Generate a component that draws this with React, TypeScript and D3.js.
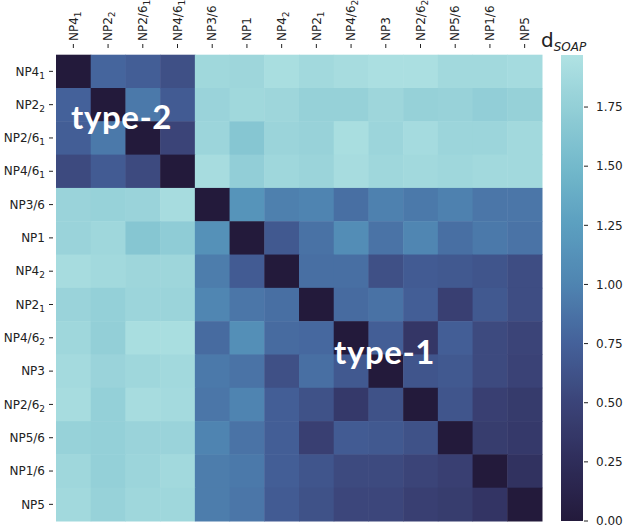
import React from "react";
import * as d3 from "d3";

const labelBase = ["NP4", "NP2", "NP2/6", "NP4/6", "NP3/6", "NP1", "NP4", "NP2", "NP4/6", "NP3", "NP2/6", "NP5/6", "NP1/6", "NP5"];
const labelSub = ["1", "2", "1", "1", "", "", "2", "1", "2", "", "2", "", "", ""];

const dist: number[][] = [
  [0, 0.78, 0.72, 0.6, 1.85, 1.83, 1.92, 1.86, 1.9, 1.93, 1.93, 1.86, 1.86, 1.89],
  [0.75, 0, 0.92, 0.7, 1.8, 1.85, 1.83, 1.77, 1.77, 1.83, 1.77, 1.79, 1.74, 1.77],
  [0.72, 0.92, 0, 0.5, 1.82, 1.65, 1.81, 1.79, 1.92, 1.82, 1.89, 1.82, 1.82, 1.86],
  [0.55, 0.7, 0.55, 0, 1.9, 1.74, 1.84, 1.81, 1.9, 1.84, 1.86, 1.84, 1.86, 1.86],
  [1.8, 1.78, 1.8, 1.9, 0, 1.15, 0.97, 1.0, 0.85, 0.98, 0.92, 0.98, 0.9, 0.9],
  [1.8, 1.84, 1.65, 1.72, 1.12, 0, 0.68, 0.87, 1.08, 0.88, 1.02, 0.85, 0.92, 0.88],
  [1.9, 1.86, 1.83, 1.83, 0.95, 0.7, 0, 0.85, 0.85, 0.6, 0.7, 0.68, 0.65, 0.58],
  [1.8, 1.76, 1.82, 1.81, 1.02, 0.9, 0.85, 0, 0.82, 0.87, 0.72, 0.45, 0.68, 0.58],
  [1.84, 1.75, 1.92, 1.92, 0.82, 1.1, 0.82, 0.8, 0, 0.72, 0.35, 0.72, 0.55, 0.5],
  [1.88, 1.8, 1.84, 1.86, 0.92, 0.88, 0.6, 0.85, 0.68, 0, 0.65, 0.68, 0.55, 0.48],
  [1.9, 1.76, 1.9, 1.88, 0.9, 1.0, 0.72, 0.62, 0.38, 0.62, 0, 0.65, 0.45, 0.4],
  [1.78, 1.76, 1.8, 1.8, 1.0, 0.88, 0.72, 0.45, 0.7, 0.68, 0.62, 0, 0.42, 0.38],
  [1.84, 1.76, 1.82, 1.86, 0.95, 0.92, 0.72, 0.65, 0.55, 0.55, 0.5, 0.45, 0, 0.3],
  [1.86, 1.78, 1.84, 1.84, 0.95, 0.9, 0.7, 0.62, 0.52, 0.52, 0.45, 0.42, 0.33, 0],
];

const cbTicks = [0, 0.25, 0.5, 0.75, 1.0, 1.25, 1.5, 1.75];
const vmin = 0;
const vmax = 1.97;

const cmapStops = [0, 0.25, 0.5, 0.75, 1.0, 1.25, 1.5, 1.75, 1.97];
const cmapColors = ["#231a3b", "#2f2d5a", "#3b4478", "#44619a", "#4f84b1", "#5b9fc0", "#73b9cb", "#93cfd7", "#b0e2e3"];

const groupText = ["type-2", "type-1"];

export default function App() {
  const W = 626, H = 528;
  const hx0 = 56, hx1 = 542, hy0 = 54.7, hy1 = 521;
  const idx = d3.range(labelBase.length);
  const x = d3.scaleBand<number>().domain(idx).range([hx0, hx1]);
  const y = d3.scaleBand<number>().domain(idx).range([hy0, hy1]);
  const color = d3.scaleLinear<string>().domain(cmapStops).range(cmapColors).interpolate(d3.interpolateRgb).clamp(true);

  const cbx0 = 561, cbx1 = 583, cby0 = 55, cby1 = 521;
  const cy = d3.scaleLinear().domain([vmin, vmax]).range([cby1, cby0]);
  const gradStops = d3.range(0, 1.0001, 0.02).map((t) => ({ t, c: color(vmin + t * (vmax - vmin)) }));

  const font = "'DejaVu Sans', sans-serif";

  const label = (i: number) => (
    <>
      {labelBase[i]}
      {labelSub[i] ? <tspan dy={3} fontSize={9}>{labelSub[i]}</tspan> : null}
    </>
  );

  return (
    <svg width={W} height={H} style={{ position: "absolute", left: 0, top: 0, background: "#fff" }}>
      <defs>
        <linearGradient id="cb" x1="0" y1="1" x2="0" y2="0">
          {gradStops.map((s, i) => (
            <stop key={i} offset={s.t} stopColor={s.c} />
          ))}
        </linearGradient>
      </defs>
      <g>
        {dist.map((row, i) =>
          row.map((v, j) => (
            <rect key={`${i}-${j}`} x={x(j)} y={y(i)} width={x.bandwidth() + 0.5} height={y.bandwidth() + 0.5} fill={color(v)} />
          ))
        )}
      </g>
      {/* y axis */}
      <g fontFamily={font} fontSize={12} fill="#222">
        {idx.map((i) => {
          const cyy = (y(i) as number) + y.bandwidth() / 2;
          return (
            <g key={i}>
              <line x1={49} x2={53} y1={cyy} y2={cyy} stroke="#222" strokeWidth={1} />
              <text x={45} y={cyy} dy="0.35em" textAnchor="end">{label(i)}</text>
            </g>
          );
        })}
      </g>
      {/* x axis */}
      <g fontFamily={font} fontSize={12} fill="#222">
        {idx.map((j) => {
          const cx = (x(j) as number) + x.bandwidth() / 2;
          return (
            <g key={j}>
              <line x1={cx} x2={cx} y1={44} y2={48} stroke="#222" strokeWidth={1} />
              <text transform={`translate(${cx},${41}) rotate(-90)`} dy="0.35em" textAnchor="start">{label(j)}</text>
            </g>
          );
        })}
      </g>
      {/* group labels */}
      <text x={71} y={129} fill="#fff" fontFamily="Lato, sans-serif" fontWeight={700} fontSize={33} letterSpacing={0.6}>{groupText[0]}</text>
      <text x={334} y={364} fill="#fff" fontFamily="Lato, sans-serif" fontWeight={700} fontSize={33} letterSpacing={0.6}>{groupText[1]}</text>
      {/* colorbar */}
      <rect x={cbx0} y={cby0} width={cbx1 - cbx0} height={cby1 - cby0} fill="url(#cb)" />
      <g fontFamily={font} fontSize={12} fill="#222">
        {cbTicks.map((t) => (
          <g key={t}>
            <line x1={cbx1 + 1} x2={cbx1 + 5} y1={cy(t)} y2={cy(t)} stroke="#222" />
            <text x={cbx1 + 13} y={cy(t)} dy="0.35em">{d3.format(".2f")(t)}</text>
          </g>
        ))}
      </g>
      <text x={541} y={47} fontFamily={font} fontSize={20} fill="#222">
        d<tspan dy={4} fontSize={12} fontStyle="italic">SOAP</tspan>
      </text>
    </svg>
  );
}
